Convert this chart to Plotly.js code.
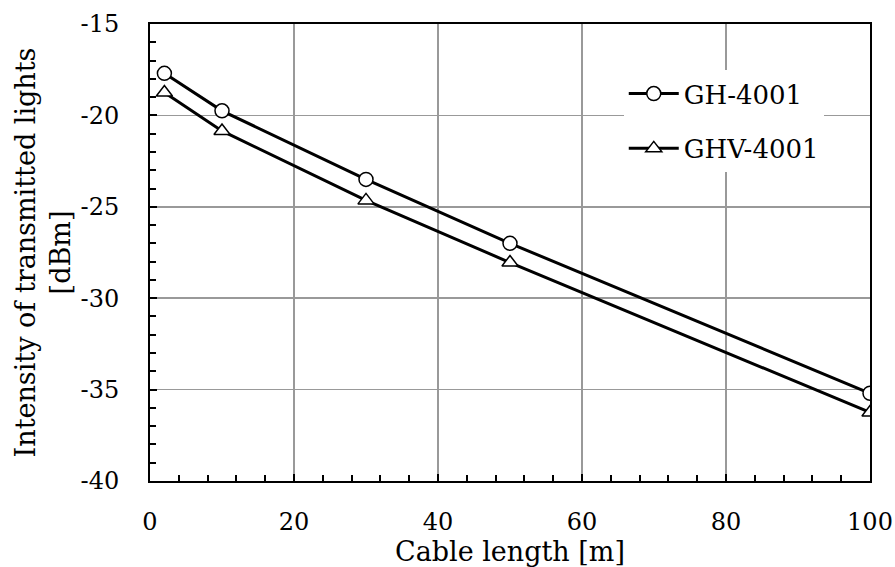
<!DOCTYPE html>
<html>
<head>
<meta charset="utf-8">
<script src="https://cdn.plot.ly/plotly-3.0.1.min.js"></script>
<style>html,body{margin:0;padding:0;background:#fff;}#chart{width:895px;height:567px;}</style>
</head>
<body>
<div id="chart"></div>
<script>
const cableLength = [2, 10, 30, 50, 100];
const gh4001 = [-17.7, -19.75, -23.5, -27.0, -35.2];
const ghv4001 = [-18.75, -20.85, -24.65, -28.05, -36.25];
const seriesNames = ["GH-4001", "GHV-4001"];
const yTickVals = [-40, -35, -30, -25, -20, -15];
const yTickText = ["-40", "-35", "-30", "-25", "-20", "-15"];

const FONT = "DejaVu Serif, Liberation Serif, serif";

const traces = [
  {
    x: cableLength, y: gh4001, name: seriesNames[0], legendgroup: "a",
    mode: "lines+markers", type: "scatter",
    line: {color: "#000", width: 3},
    marker: {symbol: "circle", size: 14, color: "#fff", line: {color: "#000", width: 1.5}}
  },
  {
    x: cableLength, y: ghv4001, name: seriesNames[1], legendgroup: "b",
    mode: "lines+markers", type: "scatter",
    line: {color: "#000", width: 3},
    marker: {symbol: "triangle-up", size: 14, color: "#fff", line: {color: "#000", width: 1.5}}
  }
];

const layout = {
  width: 895, height: 567,
  margin: {l: 150, r: 25, t: 24, b: 86},
  paper_bgcolor: "#fff", plot_bgcolor: "#fff",
  font: {family: FONT, color: "#000", size: 24},
  showlegend: true,
  legend: {
    x: 0.658, y: 0.899, xanchor: "left", yanchor: "top",
    bgcolor: "#fff", borderwidth: 0,
    font: {family: FONT, size: 26, color: "#000"},
    traceorder: "grouped", tracegroupgap: 18, itemwidth: 50
  },
  xaxis: {
    range: [0, 100], dtick: 20, tick0: 0,
    showgrid: true, gridcolor: "#999", gridwidth: 1.5,
    showline: true, linecolor: "#000", linewidth: 2, mirror: true,
    ticks: "inside", ticklen: 7, tickwidth: 2, tickcolor: "#000",
    minor: {dtick: 4, ticks: "inside", ticklen: 6, tickwidth: 2, tickcolor: "#000", showgrid: false},
    zeroline: false,
    tickfont: {family: FONT, size: 24},
    ticklabelstandoff: 18,
    title: {text: "Cable length [m]", font: {family: FONT, size: 27}, standoff: 4}
  },
  yaxis: {
    range: [-40, -15], tickmode: "array", tickvals: yTickVals, ticktext: yTickText,
    showgrid: true, gridcolor: "#999", gridwidth: 1.5,
    showline: true, linecolor: "#000", linewidth: 2, mirror: true,
    ticks: "inside", ticklen: 7, tickwidth: 2, tickcolor: "#000",
    minor: {dtick: 1, tick0: -40, ticks: "inside", ticklen: 6, tickwidth: 2, tickcolor: "#000", showgrid: false},
    zeroline: false,
    tickfont: {family: FONT, size: 24},
    ticklabelstandoff: 24,
    title: {text: "Intensity of transmitted lights<br>[dBm]", font: {family: FONT, size: 27}, standoff: 2}
  }
};

Plotly.newPlot("chart", traces, layout, {displayModeBar: false, staticPlot: true});
</script>
</body>
</html>
